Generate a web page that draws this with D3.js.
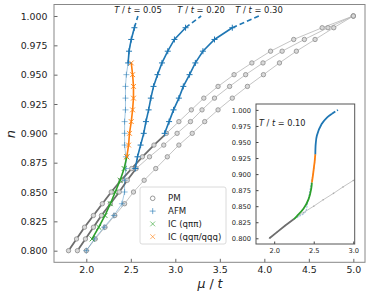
<!DOCTYPE html>
<html>
<head>
<meta charset="utf-8">
<script src="https://cdn.jsdelivr.net/npm/d3@7"></script>
<style>
  body { margin: 0; background: #fff; }
  svg, svg text { font-family: "DejaVu Sans", sans-serif; }
</style>
</head>
<body>
<div class="chart"></div>
<script>
// ---- data ----
const nPM = [0.80, 0.81, 0.82, 0.83, 0.84, 0.85, 0.86, 0.87, 0.88, 0.89, 0.90,
             0.91, 0.92, 0.93, 0.94, 0.95, 0.96, 0.97, 0.98, 0.99, 1.00];
const muPM030 = [1.80, 1.89, 1.98, 2.08, 2.18, 2.28, 2.39, 2.51, 2.63, 2.76, 2.90,
                 3.04, 3.18, 3.32, 3.48, 3.66, 3.86, 4.07, 4.33, 4.65, 5.00];
const muPM020 = [1.90, 1.99, 2.08, 2.17, 2.27, 2.37, 2.46, 2.56, 2.71, 2.87, 3.02,
                 3.17, 3.30, 3.44, 3.61, 3.79, 3.985, 4.20, 4.45, 4.715, 5.00];
const muPM005 = [2.00, 2.10, 2.21, 2.32, 2.43, 2.53, 2.65, 2.78, 2.91, 3.04, 3.19,
                 3.33, 3.48, 3.64, 3.81, 3.99, 4.17, 4.36, 4.57, 4.78, 5.00];
const pmStableEnd = {"0.30": 0.90, "0.20": 0.87};

const nAFM030 = [0.90, 0.91, 0.92, 0.93, 0.94, 0.95, 0.96, 0.97, 0.98, 0.99];
const muAFM030 = [2.88, 2.93, 2.98, 3.04, 3.09, 3.16, 3.225, 3.31, 3.44, 3.64];
const nAFM020 = [0.87, 0.88, 0.89, 0.90, 0.91, 0.92, 0.93, 0.94, 0.95, 0.96, 0.97, 0.98, 0.99];
const muAFM020 = [2.55, 2.575, 2.61, 2.645, 2.67, 2.70, 2.725, 2.755, 2.80, 2.85, 2.915, 2.99, 3.115];
const nAFM005 = [0.80, 0.81, 0.82, 0.83, 0.84, 0.85, 0.86, 0.87, 0.88, 0.89,
                 0.90, 0.91, 0.92, 0.93, 0.94, 0.95, 0.96, 0.97, 0.98, 0.99];
const muAFM005 = [2.00, 2.09, 2.20, 2.31, 2.40, 2.43, 2.43, 2.445, 2.445, 2.43,
                  2.43, 2.43, 2.44, 2.44, 2.44, 2.45, 2.47, 2.48, 2.505, 2.54];
const afmStableStart005 = 0.96;
// dashed extension to n = 1
const afmEnd = {"0.05": 2.58, "0.20": 3.29, "0.30": 3.94};

const nIC1 = [0.81, 0.82, 0.83, 0.84, 0.85, 0.86, 0.87, 0.88];
const muIC1 = [2.065, 2.14, 2.21, 2.27, 2.325, 2.38, 2.425, 2.455];
const nIC2 = [0.88, 0.89, 0.90, 0.91, 0.92, 0.93, 0.94, 0.95, 0.96];
const muIC2 = [2.455, 2.475, 2.485, 2.505, 2.52, 2.53, 2.53, 2.52, 2.505];

const tLabels = ["0.05", "0.20", "0.30"];

// inset, T/t = 0.10
const nInPM = [0.80, 0.81, 0.82, 0.83, 0.84, 0.85, 0.86, 0.87, 0.88, 0.89, 0.90];
const muInPM = [1.94, 2.04, 2.14, 2.25, 2.37, 2.50, 2.62, 2.75, 2.87, 3.00, 3.13];
const inPmStableEnd = 0.83;
const nInAFMthin = [0.83, 0.835, 0.84, 0.86, 0.88, 0.90, 0.915, 0.931];
const muInAFMthin = [2.25, 2.33, 2.39, 2.43, 2.46, 2.49, 2.51, 2.52];
const nInIC1 = [0.83, 0.835, 0.846, 0.861, 0.877, 0.887];
const muInIC1 = [2.25, 2.29, 2.37, 2.435, 2.468, 2.477];
const nInIC2 = [0.887, 0.898, 0.908, 0.92, 0.931];
const muInIC2 = [2.477, 2.49, 2.50, 2.512, 2.52];
const nInAFM = [0.931, 0.947, 0.96, 0.978, 0.988, 0.994];
const muInAFM = [2.52, 2.525, 2.54, 2.60, 2.667, 2.73];
const inAfmEnd = 2.806;

const xTicks = [2.0, 2.5, 3.0, 3.5, 4.0, 4.5, 5.0];
const yTicks = [0.800, 0.825, 0.850, 0.875, 0.900, 0.925, 0.950, 0.975, 1.000];
const xTicksIn = [2.0, 2.5, 3.0];

const legendItems = ["PM", "AFM", "IC (qππ)", "IC (qqπ/qqq)"];

// ---- setup ----
const C = {pm: "#8c8c8c", pmDark: "#6e6e6e", afm: "#1f77b4", ic1: "#2ca02c", ic2: "#ff7f0e"};
const zip = (ns, mus) => ns.map((n, i) => ({n: n, mu: mus[i]}));

const svg = d3.select(".chart").append("svg")
    .attr("width", 374).attr("height", 297);

const xScale = d3.scaleLinear().domain([1.637, 5.131]).range([54, 365]);
const yScale = d3.scaleLinear().domain([0.7901, 1.0098]).range([262.3, 4.5]);

const line = d3.line().x(d => xScale(d.mu)).y(d => yScale(d.n));

const plus = "M-3,0H3M0,-3V3";
const cross = "M-2.4,-2.4L2.4,2.4M-2.4,2.4L2.4,-2.4";

function drawPath(g, pts, color, w, opts = {}) {
    g.append("path")
        .datum(pts)
        .attr("fill", "none")
        .attr("stroke", color)
        .attr("stroke-width", w)
        .attr("stroke-opacity", opts.op || 1)
        .attr("stroke-dasharray", opts.dash || null)
        .attr("d", opts.gen || line);
}
function drawMarks(g, pts, shape, color, op) {
    g.selectAll(null)
        .data(pts)
        .join("path")
        .attr("transform", d => `translate(${xScale(d.mu)},${yScale(d.n)})`)
        .attr("d", shape)
        .attr("fill", "none")
        .attr("stroke", color)
        .attr("stroke-width", 1)
        .attr("stroke-opacity", op);
}
function drawCircles(g, pts) {
    g.selectAll(null)
        .data(pts)
        .join("circle")
        .attr("cx", d => xScale(d.mu))
        .attr("cy", d => yScale(d.n))
        .attr("r", 2.2)
        .attr("fill", "#d9d9d9")
        .attr("stroke", C.pm)
        .attr("stroke-width", 0.8);
}
function styleAxis(g, size, tickColor) {
    g.attr("font-family", null).attr("font-size", size);
    g.select(".domain").remove();
    g.selectAll("text").attr("fill", "#222");
    g.selectAll("line").attr("stroke", tickColor);
}

// ---- axes ----
const yAxis = d3.axisLeft(yScale).tickValues(yTicks).tickSize(-3.5).tickPadding(6.5)
    .tickFormat(d3.format(".3f"));
const xAxis = d3.axisBottom(xScale).tickValues(xTicks).tickSize(-3.5).tickPadding(4)
    .tickFormat(d3.format(".1f"));

svg.append("g")
    .attr("transform", "translate(54,0)")
    .call(yAxis)
    .call(g => styleAxis(g, 9.4, "#666"));

svg.append("g")
    .attr("transform", "translate(0,262.3)")
    .call(xAxis)
    .call(g => styleAxis(g, 9.4, "#666"));

const plot = svg.append("g");

// PM curves
const pmSets = [["0.30", muPM030], ["0.20", muPM020], ["0.05", muPM005]];
pmSets.forEach(([t, mus]) => {
    const pts = zip(nPM, mus);
    drawPath(plot, pts, "#b5b5b5", 0.8);
    if (pmStableEnd[t]) {
        drawPath(plot, pts.filter(d => d.n <= pmStableEnd[t] + 1e-9), C.pmDark, 1.8);
    }
    drawCircles(plot, pts);
});

// AFM T=0.05 metastable (thin)
const afm005 = zip(nAFM005, muAFM005);
drawPath(plot, afm005, C.afm, 0.9, {op: 0.45});
drawMarks(plot, afm005.filter(d => d.n < afmStableStart005), plus, C.afm, 0.5);

// IC phases at T=0.05
const ic1 = zip(nIC1, muIC1);
drawPath(plot, ic1, C.ic1, 1.6);
drawMarks(plot, ic1, cross, C.ic1, 0.9);
const ic2 = zip(nIC2, muIC2);
drawPath(plot, ic2, C.ic2, 1.6);
drawMarks(plot, ic2, cross, C.ic2, 0.9);

// stable AFM segments + dashed ends
const afmSets = [
    ["0.05", afm005.filter(d => d.n >= afmStableStart005 - 1e-9)],
    ["0.20", zip(nAFM020, muAFM020)],
    ["0.30", zip(nAFM030, muAFM030)]
];
afmSets.forEach(([t, pts]) => {
    drawPath(plot, pts, C.afm, 1.6);
    drawMarks(plot, pts, plus, C.afm, 1);
    const last = pts[pts.length - 1];
    drawPath(plot, [last, {n: 1.0, mu: afmEnd[t]}], C.afm, 1.6, {dash: "5,3"});
});

// T labels above dashed ends
tLabels.forEach(t => {
    const txt = svg.append("text")
        .attr("x", xScale(afmEnd[t]))
        .attr("y", 12.5)
        .attr("text-anchor", "middle")
        .attr("font-size", 8.4)
        .attr("fill", "#222");
    txt.append("tspan").attr("font-style", "italic").text("T");
    txt.append("tspan").text(" / ");
    txt.append("tspan").attr("font-style", "italic").text("t");
    txt.append("tspan").text(" = " + t);
});

// frame
svg.append("rect")
    .attr("x", 54).attr("y", 4.5).attr("width", 311).attr("height", 257.8)
    .attr("fill", "none").attr("stroke", "#888").attr("stroke-width", 1);

// axis titles
const xt = svg.append("text")
    .attr("x", 210).attr("y", 287.5)
    .attr("text-anchor", "middle")
    .attr("font-size", 12.5)
    .attr("fill", "#222");
xt.append("tspan").attr("font-style", "italic").text("μ");
xt.append("tspan").text(" / ");
xt.append("tspan").attr("font-style", "italic").text("t");

svg.append("text")
    .attr("transform", "translate(15,134) rotate(-90)")
    .attr("text-anchor", "middle")
    .attr("font-size", 13)
    .attr("font-style", "italic")
    .attr("fill", "#222")
    .text("n");

// legend
const lg = svg.append("g");
lg.append("rect")
    .attr("x", 140).attr("y", 187).attr("width", 86).attr("height", 57).attr("rx", 2)
    .attr("fill", "#fff").attr("fill-opacity", 0.85)
    .attr("stroke", "#d0d0d0").attr("stroke-width", 0.8);
const lgColors = [C.pm, C.afm, C.ic1, C.ic2];
const lgShapes = [null, plus, cross, cross];
legendItems.forEach((name, i) => {
    const yy = 198.3 + i * 12.8;
    if (i === 0) {
        lg.append("circle").attr("cx", 152.7).attr("cy", yy).attr("r", 2.3)
            .attr("fill", "none").attr("stroke", C.pm).attr("stroke-width", 0.9);
    } else {
        lg.append("path").attr("transform", `translate(152.7,${yy})`).attr("d", lgShapes[i])
            .attr("fill", "none").attr("stroke", lgColors[i]).attr("stroke-opacity", 0.6);
    }
    lg.append("text")
        .attr("x", 168).attr("y", yy).attr("dy", "0.35em")
        .attr("font-size", 8.6).attr("fill", "#222")
        .text(name);
});

// ---- inset ----
const ix = d3.scaleLinear().domain([1.77, 3.018]).range([256, 354.7]);
const iy = d3.scaleLinear().domain([0.7911, 1.0092]).range([244, 104]);
const iline = d3.line().x(d => ix(d.mu)).y(d => iy(d.n));
const ismooth = d3.line().x(d => ix(d.mu)).y(d => iy(d.n)).curve(d3.curveCatmullRom);

const inset = svg.append("g");
inset.append("rect")
    .attr("x", 256).attr("y", 104).attr("width", 98.7).attr("height", 140)
    .attr("fill", "#fff");

svg.append("clipPath").attr("id", "inclip")
    .append("rect").attr("x", 256).attr("y", 104).attr("width", 98.7).attr("height", 140);
const ip = inset.append("g").attr("clip-path", "url(#inclip)");

const inPM = zip(nInPM, muInPM);
drawPath(ip, inPM, "#b5b5b5", 0.8, {gen: iline});
ip.selectAll(null).data(inPM).join("circle")
    .attr("cx", d => ix(d.mu)).attr("cy", d => iy(d.n)).attr("r", 0.8)
    .attr("fill", "#aaa");
drawPath(ip, inPM.filter(d => d.n <= inPmStableEnd + 1e-9), C.pmDark, 1.8, {gen: iline});
drawPath(ip, zip(nInAFMthin, muInAFMthin), C.afm, 0.8, {op: 0.6, dash: "2,1", gen: ismooth});
drawPath(ip, zip(nInIC1, muInIC1), C.ic1, 1.8, {gen: ismooth});
drawPath(ip, zip(nInIC2, muInIC2), C.ic2, 1.8, {gen: ismooth});
const inAFM = zip(nInAFM, muInAFM);
drawPath(ip, inAFM, C.afm, 1.8, {gen: ismooth});
drawPath(ip, [inAFM[inAFM.length - 1], {n: 1.0, mu: inAfmEnd}], C.afm, 1.8, {dash: "4,2", gen: iline});

inset.append("g")
    .attr("transform", "translate(256,0)")
    .call(d3.axisLeft(iy).tickValues(yTicks).tickSize(-2.5).tickPadding(5).tickFormat(d3.format(".3f")))
    .call(g => styleAxis(g, 6.7, "#444"));
inset.append("g")
    .attr("transform", "translate(0,244)")
    .call(d3.axisBottom(ix).tickValues(xTicksIn).tickSize(-2.5).tickPadding(4).tickFormat(d3.format(".1f")))
    .call(g => styleAxis(g, 6.7, "#444"));

inset.append("rect")
    .attr("x", 256).attr("y", 104).attr("width", 98.7).attr("height", 140)
    .attr("fill", "none").attr("stroke", "#555").attr("stroke-width", 1);

const it = inset.append("text")
    .attr("x", 259).attr("y", 125.5)
    .attr("font-size", 8.2).attr("fill", "#222");
it.append("tspan").attr("font-style", "italic").text("T");
it.append("tspan").text(" / ");
it.append("tspan").attr("font-style", "italic").text("t");
it.append("tspan").text(" = 0.10");
</script>
</body>
</html>
